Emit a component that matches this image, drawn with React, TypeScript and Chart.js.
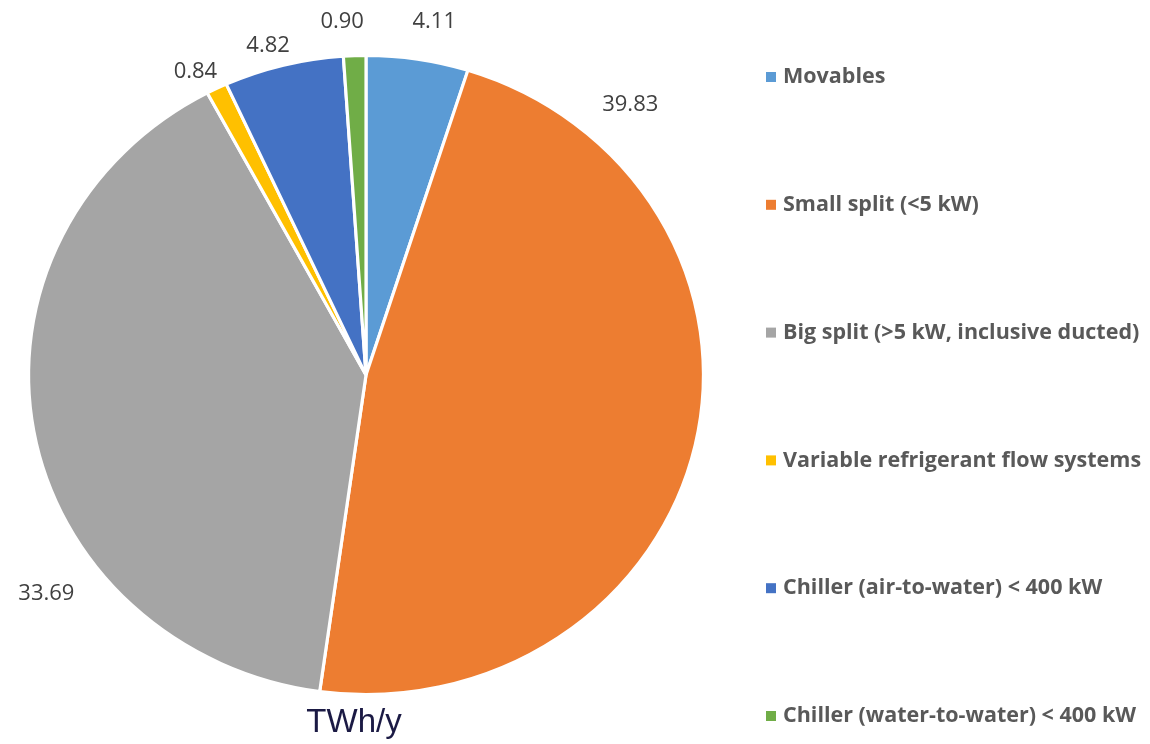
import React, { useEffect, useRef } from "react";
import { Chart, registerables } from "chart.js";

Chart.register(...registerables);

const categories = [
  "Movables",
  "Small split (<5 kW)",
  "Big split (>5 kW, inclusive ducted)",
  "Variable refrigerant flow systems",
  "Chiller (air-to-water) < 400 kW",
  "Chiller (water-to-water) < 400 kW",
];
const values = [4.11, 39.83, 33.69, 0.84, 4.82, 0.9];
const colors = ["#5B9BD5", "#ED7D31", "#A5A5A5", "#FFC000", "#4472C4", "#70AD47"];
const unitLabel = "TWh/y";

// label placement: fraction along slice angle, radius factor beyond the rim
const labelFrac = [0.59, 0.148, 0.321, 0.0, 0.425, 0.05];
const labelRad = [1.124, 1.153, 1.169, 1.075, 1.072, 1.109];

// horizontal stretch of the pie (reference image is slightly wider than tall)
const stretchX = 339 / 321;

const stretchPlugin = {
  id: "stretch",
  beforeDatasetsDraw(chart: any) {
    const arc = chart.getDatasetMeta(0).data[0];
    const ctx = chart.ctx;
    ctx.save();
    ctx.translate(arc.x, arc.y);
    ctx.scale(stretchX, 1);
    ctx.translate(-arc.x, -arc.y);
  },
  afterDatasetsDraw(chart: any) {
    chart.ctx.restore();
  },
};

const labelPlugin = {
  id: "valueLabels",
  afterDatasetsDraw(chart: any) {
    const ctx = chart.ctx;
    const meta = chart.getDatasetMeta(0);
    const data = chart.data.datasets[0].data as number[];
    ctx.save();
    ctx.font = "22px 'Open Sans'";
    ctx.fillStyle = "#404040";
    ctx.textAlign = "center";
    ctx.textBaseline = "middle";
    meta.data.forEach((arc: any, i: number) => {
      const { x, y, startAngle, endAngle, outerRadius } = arc.getProps(
        ["x", "y", "startAngle", "endAngle", "outerRadius"],
        true
      );
      const a = startAngle + (endAngle - startAngle) * labelFrac[i];
      const r = outerRadius * labelRad[i];
      ctx.fillText(data[i].toFixed(2), x + Math.cos(a) * r * stretchX, y + Math.sin(a) * r);
    });
    ctx.restore();
  },
};

const legendPlugin = {
  id: "sideLegend",
  afterDraw(chart: any) {
    const ctx = chart.ctx;
    const labels = chart.data.labels as string[];
    const bg = chart.data.datasets[0].backgroundColor as string[];
    ctx.save();
    ctx.font = "bold 21.5px 'Open Sans'";
    ctx.textBaseline = "middle";
    ctx.textAlign = "left";
    labels.forEach((l, i) => {
      const y = 77 + i * 127.8;
      ctx.fillStyle = bg[i];
      ctx.fillRect(766, y - 5, 10, 10);
      ctx.fillStyle = "#595959";
      ctx.fillText(l, 783, y);
    });
    ctx.font = "33px 'Liberation Sans'";
    ctx.fillStyle = "#1b1a44";
    ctx.textAlign = "center";
    ctx.fillText(unitLabel, 354, 723);
    ctx.restore();
  },
};

export default function App() {
  const ref = useRef<HTMLCanvasElement>(null);
  useEffect(() => {
    document.body.style.margin = "0";
    const chart = new Chart(ref.current!, {
      type: "pie",
      data: {
        labels: categories,
        datasets: [
          {
            data: values,
            backgroundColor: colors,
            borderColor: "#ffffff",
            borderWidth: 3,
          },
        ],
      },
      options: {
        responsive: false,
        animation: false,
        layout: { padding: { left: 45, right: 463, top: 54, bottom: 48 } },
        plugins: { legend: { display: false }, tooltip: { enabled: false } },
      },
      plugins: [stretchPlugin, labelPlugin, legendPlugin],
    });
    return () => chart.destroy();
  }, []);
  return (
    <div style={{ width: 1150, height: 744, background: "#fff" }}>
      <canvas ref={ref} width={1150} height={744} />
    </div>
  );
}
